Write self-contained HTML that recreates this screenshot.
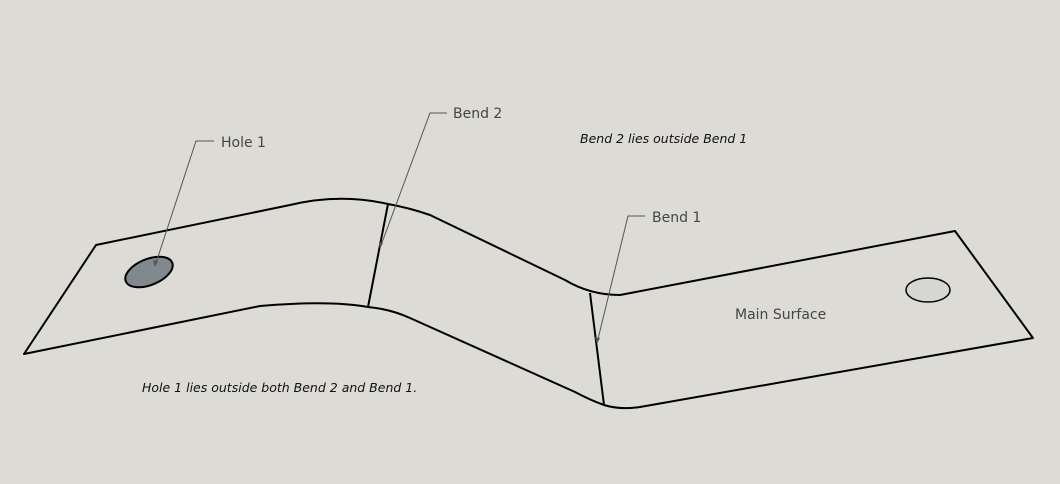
<!DOCTYPE html>
<html><head><style>
html,body{margin:0;padding:0;background:#dcdbd6;}
svg{display:block}
text{font-family:"DejaVu Sans","Liberation Sans",sans-serif;font-size:14px;fill:#444}
.it{font-family:"DejaVu Sans","Liberation Sans",sans-serif;font-style:italic;font-size:12.5px;fill:#111}
</style></head><body>
<svg width="1060" height="484" viewBox="0 0 1060 484">
<rect width="1060" height="484" fill="#dcdbd6"/>
<g fill="none" stroke="#000" stroke-width="2" stroke-linejoin="round">
<path d="M96,245 L290,205 Q340,193 388,204 Q410,208 430,215 L565,280 Q590,295 620,295 L955,231 L1033,338 L640,407 Q620,410 604,405 Q590,400 575,392 L410,318 Q390,309 368,307 Q330,300 260,306 L24,354 Z"/>
<path d="M388,204 L368,307"/>
<path d="M590,293 L604,405"/>
</g>
<ellipse cx="149" cy="272" rx="25" ry="13" transform="rotate(-22 149 272)" fill="#7f898e" stroke="#000" stroke-width="2"/>
<ellipse cx="928" cy="290" rx="22" ry="12" fill="#d6d6d4" stroke="#000" stroke-width="1.5"/>
<g stroke="#555" stroke-width="1" fill="none">
<path d="M214,141 L196,141 L155,266"/>
<path d="M447,113 L430,113 L380,248"/>
<path d="M645,216 L628,216 L597,343"/>
</g>
<g fill="#555">
<path d="M155,267 l-2,-7 l5,1 z"/>
<path d="M380,249 l-1,-7 l4,1 z"/>
<path d="M597,344 l-2,-7 l5,1 z"/>
</g>
<text x="221" y="147">Hole 1</text>
<text x="453" y="118">Bend 2</text>
<text x="652" y="222">Bend 1</text>
<text x="735" y="319">Main Surface</text>
<text class="it" x="580" y="143">Bend 2 lies outside Bend 1</text>
<text class="it" x="142" y="392">Hole 1 lies outside both Bend 2 and Bend 1.</text>
</svg>
</body></html>
